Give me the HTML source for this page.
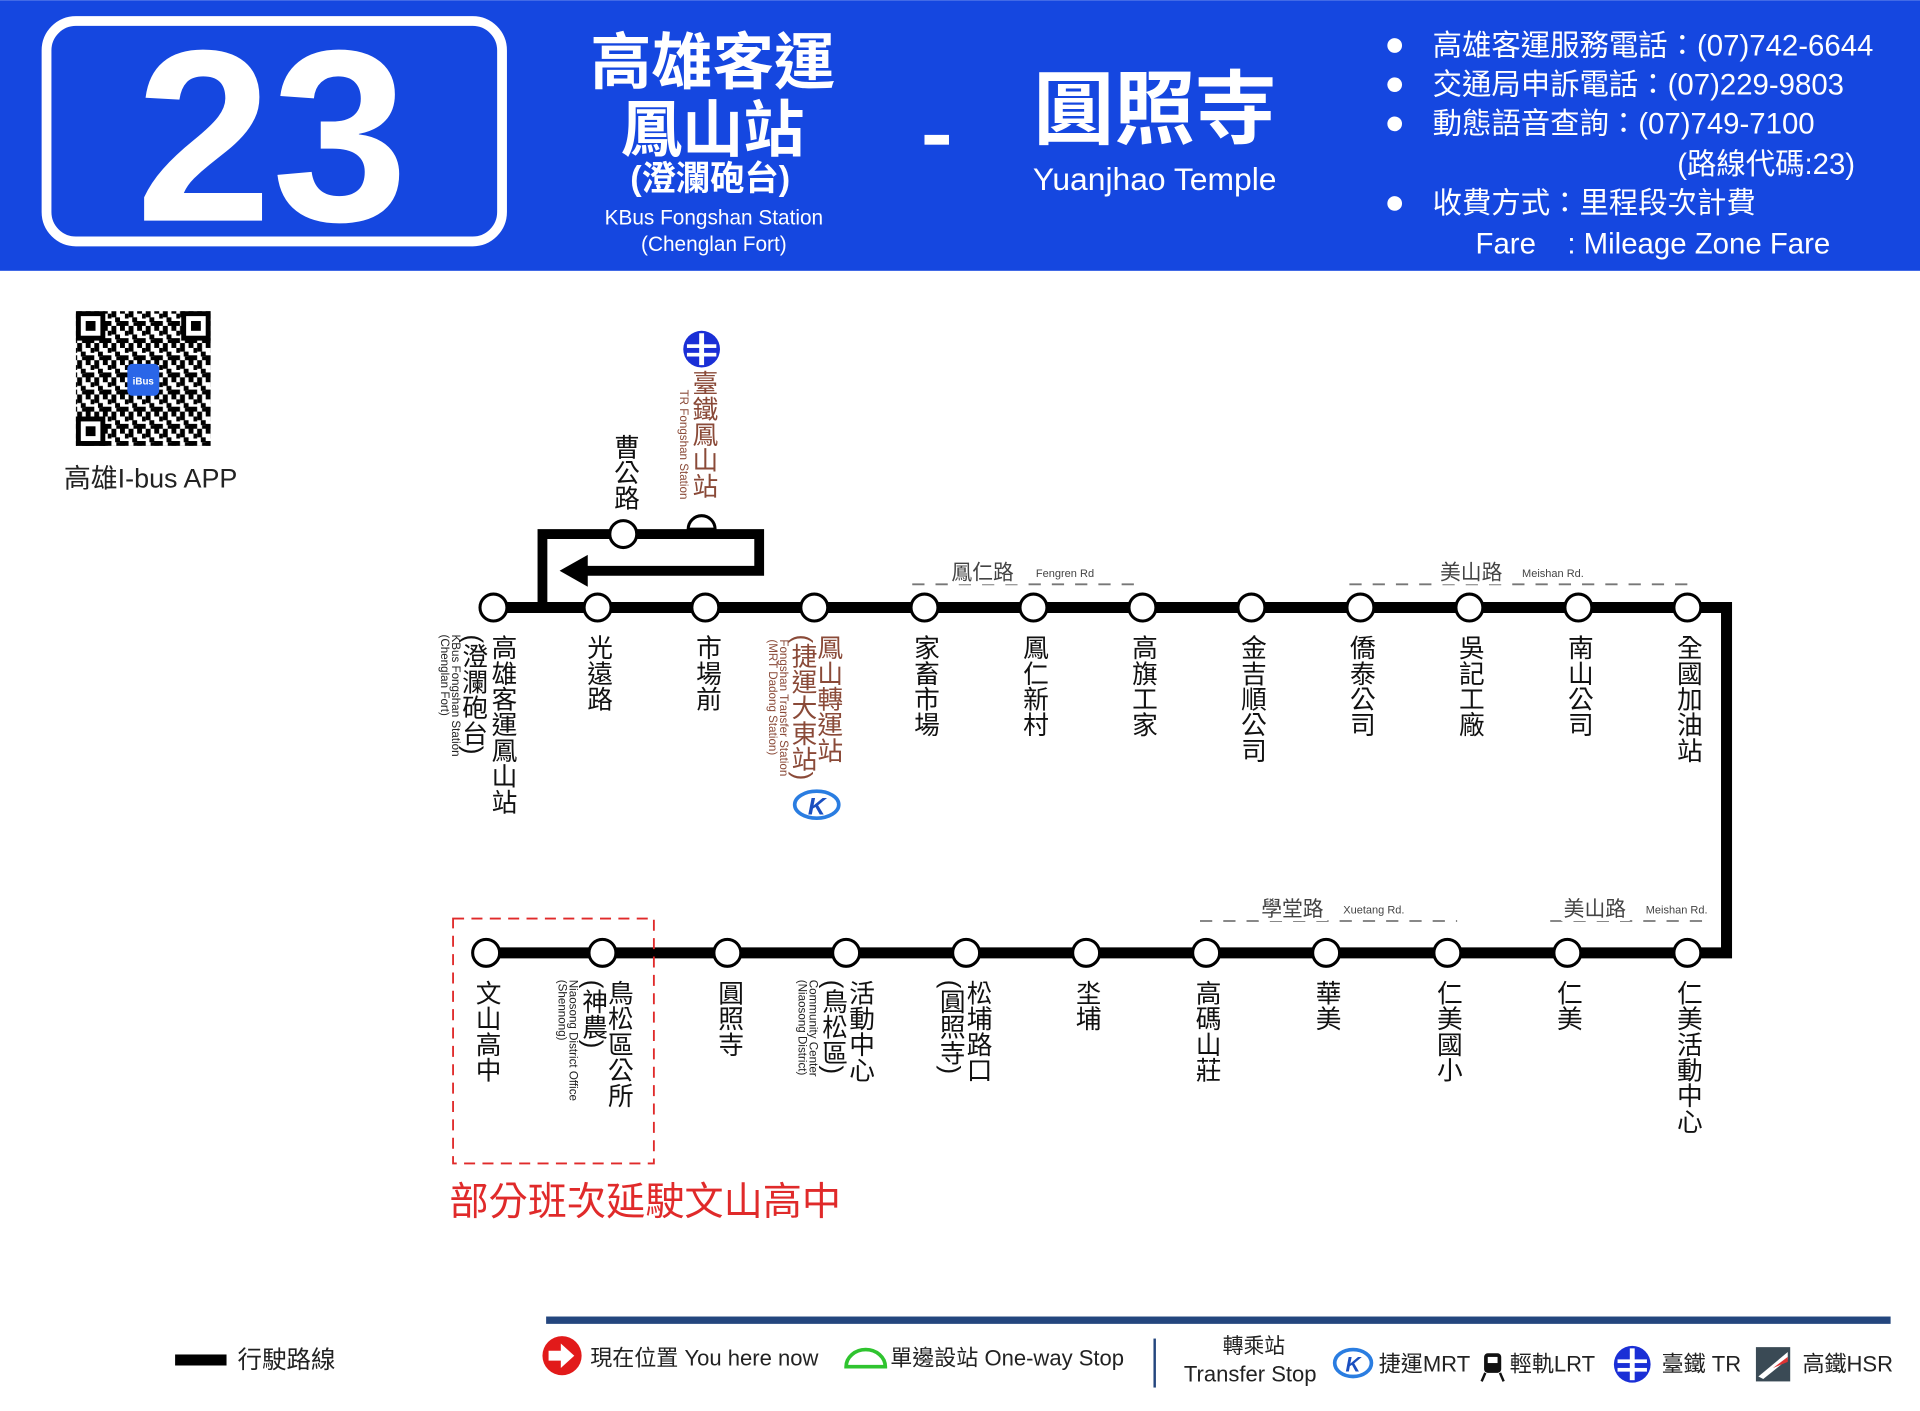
<!DOCTYPE html>
<html><head><meta charset="utf-8">
<style>
html,body{margin:0;padding:0;background:#fff;}
svg{display:block;}
text{font-family:"Liberation Sans","Noto Sans CJK TC",sans-serif;}
.v{writing-mode:vertical-rl;font-size:21px;fill:#111;}
.vb{writing-mode:vertical-rl;font-size:21px;fill:#8a4a38;}
.ve{writing-mode:vertical-rl;font-size:9.5px;fill:#222;}
.veb{writing-mode:vertical-rl;font-size:9.5px;fill:#8a4a38;}
.w{fill:#fff;}
</style></head><body>
<svg width="1920" height="1411" viewBox="0 0 1568 1152" xmlns="http://www.w3.org/2000/svg">
<defs>
<pattern id="qr" width="14" height="14" patternUnits="userSpaceOnUse">
<rect x="0" y="0" width="4" height="4" fill="#000"/><rect x="7" y="0" width="4" height="7" fill="#000"/>
<rect x="4" y="4" width="3" height="4" fill="#000"/><rect x="10" y="7" width="4" height="4" fill="#000"/>
<rect x="0" y="10" width="7" height="4" fill="#000"/><rect x="11" y="11" width="3" height="3" fill="#000"/>
</pattern>
</defs>
<!-- header -->
<rect x="0" y="0" width="1568" height="221" fill="#1547e0"/>
<rect x="38" y="17" width="372" height="180" rx="24" fill="none" stroke="#fff" stroke-width="8"/>
<text x="222" y="180" text-anchor="middle" font-size="200" font-weight="bold" class="w" style="font-family:'Liberation Sans',sans-serif">23</text>
<text x="582" y="68" text-anchor="middle" font-size="50" font-weight="bold" class="w">高雄客運</text>
<text x="582" y="123" text-anchor="middle" font-size="50" font-weight="bold" class="w">鳳山站</text>
<text x="580" y="155" text-anchor="middle" font-size="28" font-weight="bold" class="w">(澄瀾砲台)</text>
<text x="583" y="183" text-anchor="middle" font-size="17" class="w">KBus Fongshan Station</text>
<text x="583" y="205" text-anchor="middle" font-size="17" class="w">(Chenglan Fort)</text>
<rect x="755" y="110" width="20" height="8" fill="#fff"/>
<text x="943" y="112" text-anchor="middle" font-size="66" font-weight="bold" class="w">圓照寺</text>
<text x="943" y="155" text-anchor="middle" font-size="26" class="w">Yuanjhao Temple</text>
<g class="w" font-size="24">
<circle cx="1139" cy="37" r="6" fill="#fff"/><text x="1170" y="45">高雄客運服務電話：(07)742-6644</text>
<circle cx="1139" cy="69" r="6" fill="#fff"/><text x="1170" y="77">交通局申訴電話：(07)229-9803</text>
<circle cx="1139" cy="101" r="6" fill="#fff"/><text x="1170" y="109">動態語音查詢：(07)749-7100</text>
<text x="1515" y="142" text-anchor="end">(路線代碼:23)</text>
<circle cx="1139" cy="166" r="6" fill="#fff"/><text x="1170" y="174">收費方式：里程段次計費</text>
<text x="1205" y="207">Fare</text><text x="1280" y="207">: Mileage Zone Fare</text>
</g>
<!-- QR -->
<rect x="62" y="254" width="110" height="110" fill="url(#qr)"/>
<g fill="#fff" stroke="#000" stroke-width="4">
<rect x="64" y="256" width="20" height="20"/><rect x="150" y="256" width="20" height="20"/><rect x="64" y="342" width="20" height="20"/>
</g>
<rect x="70" y="262" width="8" height="8"/><rect x="156" y="262" width="8" height="8"/><rect x="70" y="348" width="8" height="8"/>
<rect x="104" y="297" width="26" height="26" rx="4" fill="#2a66e8"/>
<text x="117" y="314" text-anchor="middle" font-size="8" font-weight="bold" class="w">iBus</text>
<text x="123" y="398" text-anchor="middle" font-size="22" fill="#222">高雄I-bus APP</text>

<!-- route -->
<g fill="none" stroke="#000" stroke-width="9">
<polyline points="397,496 1410,496 1410,778 397,778"/>
<polyline points="443,496 443,436 620,436 620,466 478,466" stroke-width="8"/>
</g>
<polygon points="457,466 480,453 480,479" fill="#000"/>
<g fill="#fff" stroke="#000" stroke-width="2.5">
<circle cx="403" cy="496" r="11"/><circle cx="488" cy="496" r="11"/><circle cx="576" cy="496" r="11"/><circle cx="665" cy="496" r="11"/>
<circle cx="755" cy="496" r="11"/><circle cx="844" cy="496" r="11"/><circle cx="933" cy="496" r="11"/><circle cx="1022" cy="496" r="11"/>
<circle cx="1111" cy="496" r="11"/><circle cx="1200" cy="496" r="11"/><circle cx="1289" cy="496" r="11"/><circle cx="1378" cy="496" r="11"/>
<circle cx="509" cy="436" r="11"/><path d="M562,432 A11,11 0 0 1 584,432 Z"/>
<circle cx="397" cy="778" r="11"/><circle cx="492" cy="778" r="11"/><circle cx="594" cy="778" r="11"/><circle cx="691" cy="778" r="11"/>
<circle cx="789" cy="778" r="11"/><circle cx="887" cy="778" r="11"/><circle cx="985" cy="778" r="11"/><circle cx="1083" cy="778" r="11"/>
<circle cx="1182" cy="778" r="11"/><circle cx="1280" cy="778" r="11"/><circle cx="1378" cy="778" r="11"/>
</g>
<!-- road labels -->
<g stroke="#777" stroke-width="1.5" stroke-dasharray="10,9">
<line x1="745" y1="477" x2="935" y2="477"/><line x1="1102" y1="477" x2="1385" y2="477"/>
<line x1="980" y1="752" x2="1190" y2="752"/><line x1="1266" y1="752" x2="1395" y2="752"/>
</g>
<g fill="#444">
<rect x="775" y="455" width="60" height="22" fill="#fff"/><text x="777" y="473" font-size="17">鳳仁路</text><text x="846" y="471" font-size="9">Fengren Rd</text>
<rect x="1173" y="455" width="56" height="22" fill="#fff"/><text x="1176" y="473" font-size="17">美山路</text><text x="1243" y="471" font-size="9">Meishan Rd.</text>
<rect x="1028" y="730" width="56" height="22" fill="#fff"/><text x="1030" y="748" font-size="17">學堂路</text><text x="1097" y="746" font-size="9">Xuetang Rd.</text>
<rect x="1275" y="730" width="56" height="22" fill="#fff"/><text x="1277" y="748" font-size="17">美山路</text><text x="1344" y="746" font-size="9">Meishan Rd.</text>
</g>
<!-- top labels -->
<text class="v" x="410" y="518">高雄客運鳳山站</text>
<text class="v" x="386" y="518">(澄瀾砲台)</text>
<text class="ve" x="372" y="518">KBus Fongshan Station</text>
<text class="ve" x="363" y="518">(Chenglan Fort)</text>
<text class="v" x="488" y="518">光遠路</text>
<text class="v" x="577" y="518">市場前</text>
<text class="vb" x="676" y="518">鳳山轉運站</text>
<text class="vb" x="655" y="518">(捷運大東站)</text>
<text class="veb" x="640" y="522">Fongshan Transfer Station</text>
<text class="veb" x="631" y="522">(MRT Dadong Station)</text>
<text class="v" x="755" y="518">家畜市場</text>
<text class="v" x="844" y="518">鳳仁新村</text>
<text class="v" x="933" y="518">高旗工家</text>
<text class="v" x="1022" y="518">金吉順公司</text>
<text class="v" x="1111" y="518">僑泰公司</text>
<text class="v" x="1200" y="518">吳記工廠</text>
<text class="v" x="1289" y="518">南山公司</text>
<text class="v" x="1378" y="518">全國加油站</text>
<text class="v" x="510" y="354">曹公路</text>
<text class="vb" x="574" y="302">臺鐵鳳山站</text>
<text class="veb" x="558" y="318">TR Fongshan Station</text>
<!-- TR icon -->
<g>
<circle cx="573" cy="285" r="15" fill="#1a2fd6"/>
<rect x="561" y="281" width="24" height="3" fill="#fff"/><rect x="561" y="288" width="24" height="3" fill="#fff"/>
<rect x="571" y="272" width="4" height="26" fill="#fff"/>
</g>
<!-- K icon -->
<g>
<ellipse cx="667" cy="657" rx="18" ry="11" fill="none" stroke="#2a7de1" stroke-width="3"/>
<text x="667" y="665" text-anchor="middle" font-size="20" font-weight="bold" font-style="italic" fill="#1a4fc0">K</text>
</g>
<!-- bottom labels -->
<text class="v" x="397" y="800">文山高中</text>
<text class="v" x="505" y="800">鳥松區公所</text>
<text class="v" x="484" y="800">(神農)</text>
<text class="ve" x="468" y="800">Niaosong District Office</text>
<text class="ve" x="459" y="800">(Shennong)</text>
<text class="v" x="595" y="800">圓照寺</text>
<text class="v" x="702" y="800">活動中心</text>
<text class="v" x="680" y="800">(鳥松區)</text>
<text class="ve" x="664" y="800">Community Center</text>
<text class="ve" x="655" y="800">(Niaosong District)</text>
<text class="v" x="798" y="800">松埔路口</text>
<text class="v" x="776" y="800">(圓照寺)</text>
<text class="v" x="887" y="800">坔埔</text>
<text class="v" x="985" y="800">高碼山莊</text>
<text class="v" x="1083" y="800">華美</text>
<text class="v" x="1182" y="800">仁美國小</text>
<text class="v" x="1280" y="800">仁美</text>
<text class="v" x="1378" y="800">仁美活動中心</text>
<rect x="370" y="750" width="164" height="200" fill="none" stroke="#e02a2a" stroke-width="1.5" stroke-dasharray="9,6"/>
<text x="367" y="992" font-size="32" fill="#e02a2a">部分班次延駛文山高中</text>
<!-- legend -->
<rect x="446" y="1075" width="1098" height="6" fill="#24467e"/>
<rect x="143" y="1106" width="42" height="9" fill="#000"/>
<text x="194" y="1117" font-size="20" fill="#222">行駛路線</text>
<circle cx="459" cy="1107" r="16" fill="#e21a1a"/>
<polygon points="448,1103 458,1103 458,1097 469,1107 458,1117 458,1111 448,1111" fill="#fff"/>
<text x="482" y="1115" font-size="18" fill="#222">現在位置 You here now</text>
<path d="M691,1116 A16,14 0 0 1 723,1116 Z" fill="none" stroke="#2fc42f" stroke-width="3"/>
<text x="727" y="1115" font-size="18" fill="#222">單邊設站 One-way Stop</text>
<rect x="942" y="1093" width="2" height="40" fill="#24467e"/>
<text x="1024" y="1105" text-anchor="middle" font-size="17" fill="#222">轉乘站</text>
<text x="1021" y="1128" text-anchor="middle" font-size="18" fill="#222">Transfer Stop</text>
<ellipse cx="1105" cy="1113" rx="15" ry="11" fill="none" stroke="#2a7de1" stroke-width="3"/>
<text x="1105" y="1120" text-anchor="middle" font-size="17" font-weight="bold" font-style="italic" fill="#1a4fc0">K</text>
<text x="1126" y="1120" font-size="18" fill="#222">捷運MRT</text>
<rect x="1212" y="1105" width="14" height="16" rx="3" fill="#111"/><rect x="1215" y="1108" width="8" height="5" fill="#fff"/>
<line x1="1213" y1="1121" x2="1210" y2="1128" stroke="#111" stroke-width="2"/><line x1="1225" y1="1121" x2="1228" y2="1128" stroke="#111" stroke-width="2"/>
<text x="1233" y="1120" font-size="18" fill="#222">輕軌LRT</text>
<circle cx="1333" cy="1114" r="15" fill="#1a2fd6"/>
<rect x="1321" y="1110" width="24" height="3" fill="#fff"/><rect x="1321" y="1117" width="24" height="3" fill="#fff"/><rect x="1331" y="1101" width="4" height="26" fill="#fff"/>
<text x="1357" y="1120" font-size="18" fill="#222">臺鐵 TR</text>
<rect x="1434" y="1100" width="28" height="28" fill="#3a4a55"/>
<path d="M1436,1124 L1460,1104 L1460,1110 L1440,1126 Z" fill="#fff"/><path d="M1448,1117 L1460,1108 L1460,1112 Z" fill="#d33"/>
<text x="1472" y="1120" font-size="18" fill="#222">高鐵HSR</text>
</svg>
</body></html>
